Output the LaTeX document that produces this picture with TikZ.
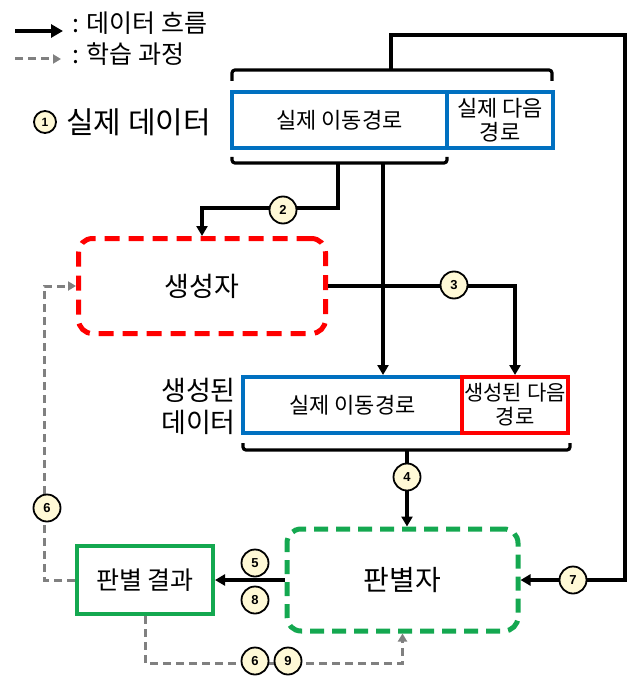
\documentclass[tikz,border=0pt]{standalone}
\usepackage{fontspec}
\usetikzlibrary{arrows.meta,calc}
\newfontfamily\kr{Noto Sans CJK KR}
\newfontfamily\numf{Liberation Sans}
\definecolor{bluec}{RGB}{0,112,192}
\definecolor{redc}{RGB}{255,0,0}
\definecolor{greenc}{RGB}{20,168,80}
\definecolor{grayc}{RGB}{128,128,128}
\definecolor{creamc}{RGB}{255,249,214}
\begin{document}
\begin{tikzpicture}[x=1pt,y=-1pt,
  flow/.style={line width=3.2pt,black},
  flowarr/.style={flow,-{Triangle[length=10pt,width=11pt]}},
  learn/.style={line width=3pt,grayc,dash pattern=on 8pt off 5pt},
  learnarr/.style={learn,-{Triangle[length=8pt,width=9pt]}},
  brk/.style={line width=3.2pt,black,rounded corners=3pt},
  numc/.style={circle,draw=black,line width=1.8pt,fill=creamc,inner sep=0pt,minimum size=27pt,font=\numf\bfseries\fontsize{13}{13}\selectfont},
  bluebox/.style={draw=bluec,line width=4pt,rectangle,inner sep=0pt,align=center,font=\kr\fontsize{22}{24}\selectfont},
  redbox/.style={draw=redc,line width=4pt,rectangle,inner sep=0pt,align=center,font=\kr\fontsize{21}{24}\selectfont},
  gendash/.style={draw=redc,line width=5pt,dash pattern=on 15pt off 9pt,rounded corners=14pt,rectangle,font=\kr\fontsize{27}{30}\selectfont},
  judgedash/.style={draw=greenc,line width=5pt,dash pattern=on 14pt off 8pt,rounded corners=14pt,rectangle,font=\kr\fontsize{28}{30}\selectfont},
  resbox/.style={draw=greenc,line width=4pt,rectangle,font=\kr\fontsize{25}{28}\selectfont},
  lab/.style={font=\kr\fontsize{25}{28}\selectfont,inner sep=0pt}
]
\useasboundingbox (0,0) rectangle (643,679);

% legend
\coordinate (la1) at (15,31);
\coordinate (la2) at (63,31);
\draw[line width=3.6pt,-{Triangle[length=12pt,width=13pt]}] (la1) -- (la2);
\node[lab,anchor=west] (lt1) at (72,23) {: 데이터 흐름};
\coordinate (lg1) at (15,59);
\coordinate (lg2) at (61,59);
\draw[learnarr] (lg1) -- (lg2);
\node[lab,anchor=west] (lt2) at (72,54) {: 학습 과정};

% real data label
\node[numc,minimum size=22pt,font=\numf\bfseries\fontsize{12}{12}\selectfont] (c1) at (45,122) {1};
\node[lab,anchor=west,font=\kr\fontsize{30}{32}\selectfont] (rd) at (66,122) {실제 데이터};

% top boxes
\node[bluebox,minimum width=215pt,minimum height=56pt] (top1) at (339.5,120) {실제 이동경로};
\node[bluebox,minimum width=106pt,minimum height=56pt] (top2) at (500,120) {실제 다음\\경로};

% brackets top
\draw[brk] (232,81) -- (232,70) -- (552,70) -- (552,81);
\coordinate (tb) at (391,70);
\draw[brk] (232,157) -- (232,163) -- (447,163) -- (447,157);
\coordinate (bb1) at (338,163);
\coordinate (bb2) at (383,163);

% generator
\node[gendash,minimum width=247pt,minimum height=95pt] (gen) at (202,286) {생성자};

% generated data
\node[bluebox,minimum width=219pt,minimum height=56pt] (low1) at (352.5,405) {실제 이동경로};
\node[redbox,minimum width=106pt,minimum height=56pt] (low2) at (515,405) {생성된 다음\\경로};
\node[lab,anchor=east,align=right,font=\kr\fontsize{27}{32}\selectfont] (gd) at (236,406) {생성된\\데이터};
\draw[brk] (243,443) -- (243,450) -- (570,450) -- (570,443);
\coordinate (bb3) at (407,450);

% discriminator and result
\node[judgedash,minimum width=231pt,minimum height=102pt] (judge) at (402.5,580) {판별자};
\node[resbox,minimum width=136pt,minimum height=68pt] (res) at (145,580) {판별 결과};

% data flow connectors
\coordinate (tr) at (625,35);
\draw[flowarr] (tb) |- (tr) |- (judge.east);
\draw[flowarr] (bb1) |- ($(gen.north)+(0,-28)$) -- (gen.north);
\draw[flowarr] (bb2) -- (bb2 |- low1.north);
\draw[flowarr] (gen.east) -| (low2.north);
\draw[flowarr] (bb3) -- (bb3 |- judge.north);
\draw[flowarr] (judge.west) -- (res.east);

% learning connectors
\draw[learnarr] (res.west) -- ++(-31,0) |- (gen.west);
\draw[learnarr] (res.south) -- ++(0,47) -| (judge.south);

% numbered circles
\node[numc] (c2) at (283,210) {2};
\node[numc] (c3) at (454,285) {3};
\node[numc] (c4) at (407,477) {4};
\node[numc] (c5) at (255,563) {5};
\node[numc] (c8) at (255,600) {8};
\node[numc] (c7) at (573,580) {7};
\node[numc] (c6a) at (47,508) {6};
\node[numc] (c6b) at (255,661) {6};
\node[numc] (c9) at (288,661) {9};
\end{tikzpicture}
\end{document}
